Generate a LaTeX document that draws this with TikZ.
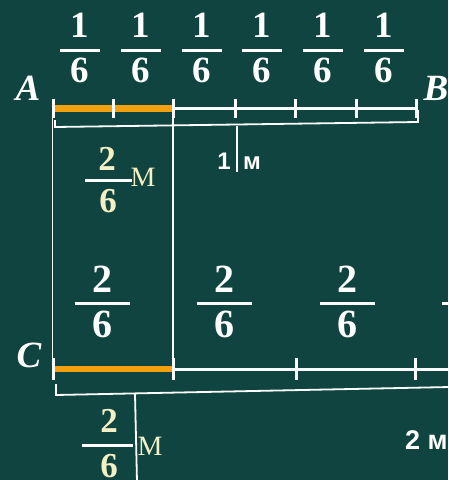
\documentclass[tikz,border=0pt]{standalone}
\usepackage{fontspec}
\setmainfont{Liberation Serif}
\newfontfamily\sansfam{Liberation Sans}
\definecolor{board}{RGB}{16,68,64}
\definecolor{bar}{RGB}{243,160,14}
\definecolor{cream}{RGB}{245,240,196}
\tikzset{
  dig/.style={inner sep=0pt,anchor=base,text=white,font=\fontsize{37}{40}\selectfont\bfseries},
  bigdig/.style={inner sep=0pt,anchor=base,text=white,font=\fontsize{40}{44}\selectfont\bfseries},
  crdig/.style={inner sep=0pt,anchor=base,text=cream,font=\fontsize{35}{40}\selectfont\bfseries},
  crm/.style={inner sep=0pt,anchor=base,text=cream,font=\fontsize{28}{32}\selectfont},
  letter/.style={inner sep=0pt,anchor=base,text=white,font=\fontsize{37}{40}\selectfont\bfseries\itshape},
  unit/.style={inner sep=0pt,anchor=base,text=white,font=\sansfam\bfseries\fontsize{24}{28}\selectfont},
  fbar/.style={white,line width=3pt},
  crbar/.style={white,line width=3pt},
  mainline/.style={white,line width=3pt},
  tickl/.style={white,line width=3pt},
  orange/.style={bar,line width=7pt},
  thin/.style={white,line width=1.8pt},
}
\begin{document}
\begin{tikzpicture}[x=1pt,y=-1pt]
\useasboundingbox (0,0) rectangle (448,480);
\clip (0,0) rectangle (448,480);
\fill[board] (0,0) rectangle (448,480);

% top segment AB
\foreach \i/\x in {0/53,1/113,2/173,3/235,4/295,5/356,6/416}{
  \coordinate (t\i) at (\x,108);
}
\draw[mainline] (t0) -- (t6);
\draw[orange] (t0) -- (t2);
\foreach \i in {0,...,6}{
  \draw[tickl] ([yshift=-10pt]t\i) -- ([yshift=9pt]t\i);
}

% top fractions 1/6
\foreach \i/\x in {1/80,2/141,3/202,4/262,5/323,6/384}{
  \node[dig] (n\i) at (\x,37) {1};
  \coordinate (bl\i) at (\x-20,50);
  \coordinate (br\i) at (\x+20,50);
  \draw[fbar] (bl\i) -- (br\i);
  \node[dig] (d\i) at (\x,82) {6};
}
\node[letter] (A) at (28,100) {A};
\node[letter] (B) at (436,100) {B};

% top brace
\coordinate (ba1) at (55,120);
\coordinate (ba2) at (55,127);
\coordinate (ba3) at (418,122);
\coordinate (ba4) at (418,110);
\draw[thin] (ba1) -- (ba2) -- (ba3) -- (ba4);
\coordinate (bt1) at (237,125.5);
\coordinate (bt2) at (237,172);
\draw[thin] (bt1) -- (bt2);
\node[unit] (one) at (224,169) {1};
\node[unit] (m1) at (252,169) {м};

% cream fraction (top)
\node[crdig] (c2a) at (107,170) {2};
\coordinate (cb1) at (85,180);
\coordinate (cb2) at (132,180);
\draw[crbar] (cb1) -- (cb2);
\node[crdig] (c6a) at (108,212) {6};
\node[crm] (Ma) at (143,186) {М};

% vertical lines
\coordinate (v1t) at (52.5,100);
\coordinate (v1b) at (52.5,380);
\coordinate (v2t) at (173,108);
\coordinate (v2b) at (173,380);
\draw[thin] (v1t) -- (v1b);
\draw[thin] (v2t) -- (v2b);

% lower segment C
\foreach \i/\x in {0/53,1/173,2/296,3/415}{
  \coordinate (s\i) at (\x,369);
}
\coordinate (send) at (450,369);
\draw[mainline] (s0) -- (send);
\draw[bar,line width=6.5pt] (s0) -- (s1);
\foreach \i in {0,...,3}{
  \draw[tickl] ([yshift=-11pt]s\i) -- ([yshift=11pt]s\i);
}
\node[letter] (C) at (29,367) {C};

% lower fractions 2/6
\foreach \i/\x in {1/102,2/224,3/347}{
  \node[bigdig] (ln\i) at (\x,292) {2};
  \coordinate (lbl\i) at (\x-27.5,303);
  \coordinate (lbr\i) at (\x+27.5,303);
  \draw[fbar] (lbl\i) -- (lbr\i);
  \node[bigdig] (ld\i) at (\x,337) {6};
}
\coordinate (lbl4) at (442,303);
\coordinate (lbr4) at (450,303);
\draw[fbar] (lbl4) -- (lbr4);

% lower brace
\coordinate (la1) at (56,384);
\coordinate (la2) at (56,395);
\coordinate (la3) at (450,387);
\draw[thin] (la1) -- (la2) -- (la3);
\coordinate (lt1) at (135,394);
\coordinate (lt2) at (137,482);
\draw[thin] (lt1) -- (lt2);
\node[unit,anchor=base west,font=\sansfam\bfseries\fontsize{27}{30}\selectfont] (two) at (405,449) {2 м};

% cream fraction (lower)
\node[crdig] (c2b) at (109,432) {2};
\coordinate (cc1) at (82,445);
\coordinate (cc2) at (133,445);
\draw[crbar] (cc1) -- (cc2);
\node[crdig] (c6b) at (109,477) {6};
\node[crm] (Mb) at (150,455) {М};
\end{tikzpicture}
\end{document}
